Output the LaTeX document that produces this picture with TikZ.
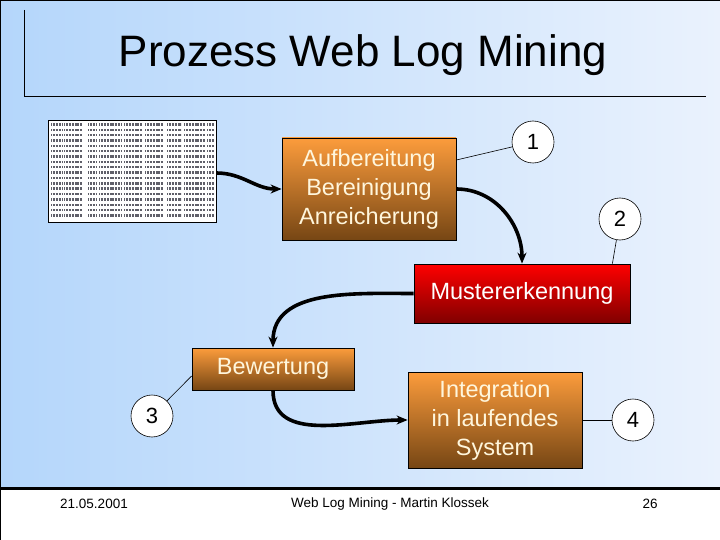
\documentclass[tikz,border=0pt]{standalone}
\usepackage{fontspec}
\setmainfont{Liberation Sans}
\usetikzlibrary{arrows.meta, positioning, calc}
\definecolor{bgleft}{RGB}{180,214,251}
\definecolor{bgright}{RGB}{234,242,253}
\definecolor{ortop}{RGB}{252,156,60}
\definecolor{orbot}{RGB}{118,70,20}
\definecolor{rdtop}{RGB}{255,0,0}
\definecolor{rdbot}{RGB}{128,0,0}
\definecolor{cream}{RGB}{255,246,220}
\definecolor{logink}{RGB}{95,95,105}

\tikzset{
  stepbox/.style={draw=black, line width=0.8pt, top color=ortop, bottom color=orbot,
    text=cream, align=center, font=\fontsize{23.5}{29}\selectfont, inner sep=0pt},
  redbox/.style={stepbox, top color=rdtop, bottom color=rdbot, text=white},
  numcirc/.style={circle, draw=black, line width=0.6pt, fill=white, minimum size=42pt,
    inner sep=0pt, font=\fontsize{22}{22}\selectfont},
  flow/.style={line width=3.6pt, -{Stealth[length=11pt,width=9pt]}},
  tag/.style={line width=0.6pt}
}

\begin{document}
\begin{tikzpicture}[x=1pt, y=-1pt]
\useasboundingbox (0,0) rectangle (720,540);
% slide background
\shade[left color=bgleft, right color=bgright] (0,0) rectangle (720,490);
\fill[white] (0,490) rectangle (720,540);
\draw[line width=3pt] (0,488) -- (720,488);
\draw[line width=1.5pt] (0,0.75) -- (720,0.75);
\draw[line width=1pt] (0.5,0) -- (0.5,540);
% title
\draw[line width=0.8pt] (24,10) -- (24,96) -- (706,96);
\node[font=\fontsize{44}{48}\selectfont] (title) at (363,55) {Prozess Web Log Mining};

% raw log file
\node[draw, fill=white, line width=0.8pt, minimum width=168pt, minimum height=102pt,
  inner sep=0pt] (log) at (132,171) {};
\foreach \r in {0,...,17} {
  \pgfmathsetmacro{\yy}{124.5+5.35*\r}
  \foreach \a/\b in {51/62, 64/82, 88/96, 99/122, 124/142, 145/163, 167/181, 184/205, 207/214}
    \draw[logink, line width=2.4pt, dash pattern=on 1.1pt off 0.5pt on 0.6pt off 0.9pt]
      (\a,\yy) -- (\b,\yy);
}

% process steps
\node[stepbox, minimum width=174pt, minimum height=102pt] (auf) at (369,189)
  {Aufbereitung\\Bereinigung\\Anreicherung};
\node[redbox, minimum width=216pt, minimum height=59pt] (mus) at (522,293.5)
  {Mustererkennung};
\node[stepbox, minimum width=162pt, minimum height=42pt] (bew) at (273,369)
  {Bewertung};
\node[stepbox, minimum width=174pt, minimum height=96pt] (integ) at (495,420)
  {Integration\\in laufendes\\System};

% step numbers
\node[numcirc] (c1) at (533,142) {1};
\node[numcirc] (c2) at (620,219) {2};
\node[numcirc] (c3) at (152,416) {3};
\node[numcirc] (c4) at (633,420) {4};

\draw[tag] ([yshift=29pt]auf.east) -- (c1);
\draw[tag] (c2) -- ([xshift=-18pt]mus.north east);
\draw[tag] ([yshift=-7pt]bew.west) -- (c3);
\draw[tag] (integ.east) -- (c4);

% flow
\draw[flow] ([yshift=-2pt]log.east) to[out=0, in=180] (auf.west);
\draw[flow] (auf.east) to[out=0, in=90] (mus.north);
\draw[flow] (mus.west) to[out=180, in=90] (bew.north);
\draw[flow] (bew.south) to[out=-90, in=180] (integ.west);

% footer
\node[font=\fontsize{13.5}{14}\selectfont] (date) at (94,504) {21.05.2001};
\node[font=\fontsize{13.5}{14}\selectfont] (foot) at (390,504) {Web Log Mining - Martin Klossek};
\node[font=\fontsize{13.5}{14}\selectfont] (page) at (650,504) {26};
\end{tikzpicture}
\end{document}
